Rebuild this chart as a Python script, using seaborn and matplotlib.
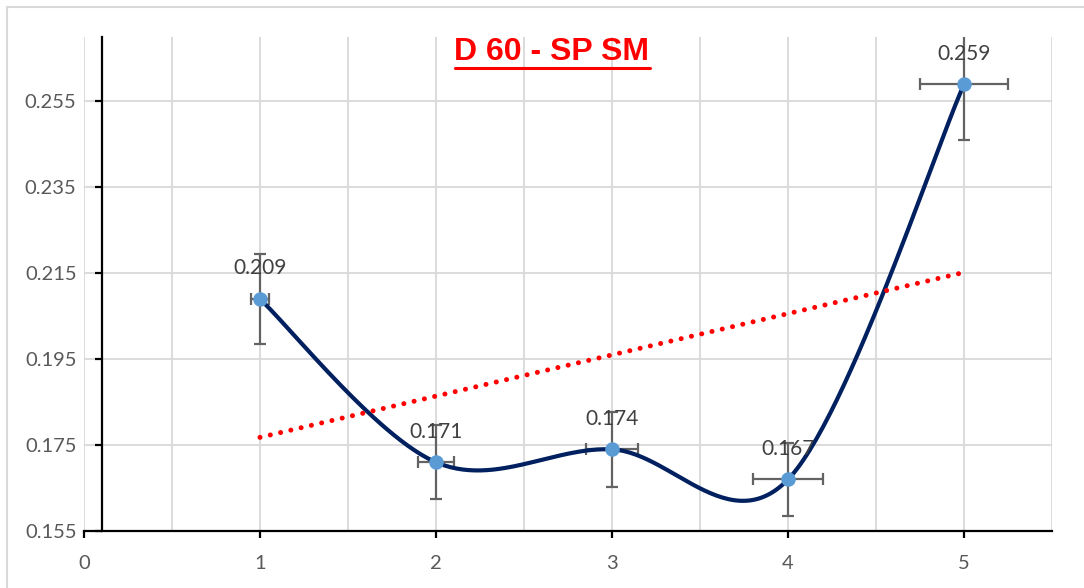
import numpy as np
import matplotlib
matplotlib.use("Agg")
import matplotlib.pyplot as plt
from matplotlib.lines import Line2D
from matplotlib.patches import Rectangle
from matplotlib.ticker import FixedLocator, MultipleLocator
import seaborn as sns
import pandas as pd

# Measured values
x_vals = [1, 2, 3, 4, 5]
y_vals = [0.209, 0.171, 0.174, 0.167, 0.259]
y_err = [0.0105, 0.0086, 0.0087, 0.0084, 0.0130]
x_err = [0.05, 0.10, 0.15, 0.20, 0.25]
y_ticks = [0.155, 0.175, 0.195, 0.215, 0.235, 0.255]
x_ticks = [0, 1, 2, 3, 4, 5]
title_text = "D 60 - SP SM"

sns.set_theme(style="white")
plt.rcParams["font.family"] = ["Lato", "DejaVu Sans"]

W, H, DPI = 1084, 588, 100
fig = plt.figure(figsize=(W / DPI, H / DPI), dpi=DPI)
ax = fig.add_axes([84 / W, 1 - 531 / H, (1052 - 84) / W, (531 - 37) / H])

df = pd.DataFrame({"x": x_vals, "y": y_vals})


def smooth_curve(xs, ys, n=60):
    """Cardinal (Catmull-Rom) Bezier smoothing through the points."""
    P = np.column_stack([xs, ys]).astype(float)
    ext = np.vstack([P[0], P, P[-1]])
    out = []
    for i in range(len(P) - 1):
        p0, p1 = P[i], P[i + 1]
        c1 = p0 + (ext[i + 2] - ext[i]) / 6.0
        c2 = p1 - (ext[i + 3] - ext[i + 1]) / 6.0
        t = np.linspace(0, 1, n)[:, None]
        seg = ((1 - t) ** 3) * p0 + 3 * ((1 - t) ** 2) * t * c1 + 3 * (1 - t) * t ** 2 * c2 + t ** 3 * p1
        out.append(seg if i == 0 else seg[1:])
    return np.vstack(out)


curve = smooth_curve(x_vals, y_vals)
curve_df = pd.DataFrame({"x": curve[:, 0], "y": curve[:, 1]})

# error bars
ax.errorbar(x_vals, y_vals, yerr=y_err, xerr=x_err, fmt="none",
            ecolor="#636363", elinewidth=1.6, capsize=4.5, capthick=1.6, zorder=2)

# smoothed series line
sns.lineplot(data=curve_df, x="x", y="y", sort=False, color="#002060",
             linewidth=3.0, ax=ax, zorder=3)

# markers
sns.scatterplot(data=df, x="x", y="y", color="#5B9BD5", s=110, linewidth=0,
                ax=ax, zorder=4)

# linear trendline
sns.regplot(data=df, x="x", y="y", ci=None, scatter=False, truncate=True, ax=ax,
            line_kws=dict(color="#FF0000", linewidth=3.6, linestyle=(0, (0.01, 2.1)),
                          dash_capstyle="round", zorder=5))

# data labels
for xv, yv in zip(x_vals, y_vals):
    ax.annotate(f"{yv:.3f}", (xv, yv), xytext=(0, 22), textcoords="offset points",
                ha="center", va="center", fontsize=15, color="#404040", zorder=6)

ax.set_xlim(0, 5.5)
ax.set_ylim(0.155, 0.27)
ax.set_xlabel("")
ax.set_ylabel("")

ax.xaxis.set_major_locator(FixedLocator(x_ticks))
ax.xaxis.set_minor_locator(MultipleLocator(0.5))
ax.yaxis.set_major_locator(FixedLocator(y_ticks))
ax.set_xticklabels([str(v) for v in x_ticks])
ax.set_yticklabels([f"{v:.3f}" for v in y_ticks])

ax.grid(which="minor", axis="x", color="#D9D9D9", linewidth=1.3, zorder=0)
ax.grid(which="major", axis="x", color="#D9D9D9", linewidth=1.3, zorder=0)
ax.grid(which="major", axis="y", color="#D9D9D9", linewidth=1.3, zorder=0)
ax.set_axisbelow(True)

for s in ["top", "right"]:
    ax.spines[s].set_visible(False)
ax.spines["left"].set_position(("data", 0.1))
ax.spines["left"].set_color("black")
ax.spines["left"].set_linewidth(1.6)
ax.spines["bottom"].set_color("black")
ax.spines["bottom"].set_linewidth(1.6)

ax.tick_params(axis="x", which="major", direction="out", length=5, width=1.6,
               color="black", labelsize=14.5, labelcolor="#595959", pad=12, bottom=True)
ax.tick_params(axis="x", which="minor", length=0)
ax.tick_params(axis="y", which="major", direction="out", length=5, width=1.6,
               color="black", labelsize=14.5, labelcolor="#595959", pad=13, left=True)

# title with underline
title = fig.text(552 / W, 1 - 52 / H, title_text, ha="center", va="center",
                 fontsize=23, fontweight="bold", color="#FF0000",
                 family=["Liberation Sans Narrow", "Liberation Sans", "DejaVu Sans"])
fig.canvas.draw()
bb = title.get_window_extent(renderer=fig.canvas.get_renderer())
uy = bb.y0 - 1
fig.add_artist(Line2D([bb.x0 / W, bb.x1 / W], [uy / H, uy / H], color="#FF0000",
                      linewidth=2.2, transform=fig.transFigure))

# chart frame
fig.add_artist(Rectangle((7 / W, -0.1), 1.2, 1 - 7 / H + 0.1, transform=fig.transFigure,
                         fill=False, edgecolor="#D9D9D9", linewidth=1.5))

fig.savefig("out.png", dpi=DPI)
